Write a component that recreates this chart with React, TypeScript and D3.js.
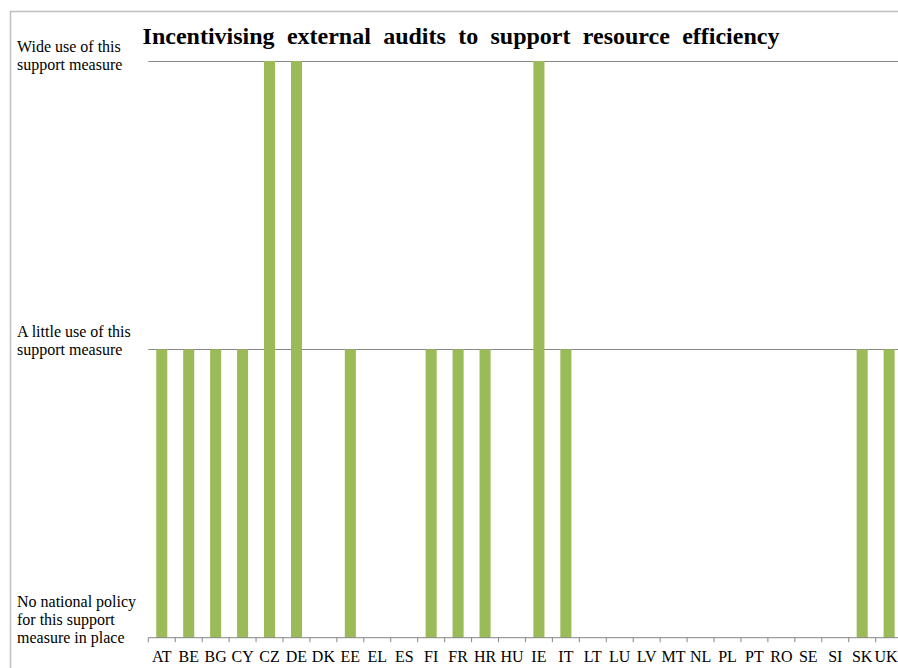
import React from "react";
import * as d3 from "d3";

const categories = ["AT","BE","BG","CY","CZ","DE","DK","EE","EL","ES","FI","FR","HR","HU","IE","IT","LT","LU","LV","MT","NL","PL","PT","RO","SE","SI","SK","UK"];
const values = [1,1,1,1,2,2,0,1,0,0,1,1,1,0,2,1,0,0,0,0,0,0,0,0,0,0,1,1];
const tickValues = [0, 1, 2];
const tickLabels = [
  ["No national policy", "for this support", "measure in place"],
  ["A little use of this", "support measure"],
  ["Wide use of this", "support measure"],
];
const title = "Incentivising external audits to support resource efficiency";

const W = 898, H = 668;
const left = 148.3, right = 902.6, top = 61, bottom = 637.7;
const FONT = "'Liberation Serif', 'Times New Roman', serif";

export default function App() {
  const x = d3.scaleBand<string>().domain(categories).range([left, right]).paddingInner(0.59).paddingOuter(0.295);
  const y = d3.scaleLinear().domain([0, 2]).range([bottom, top]);
  const step = x.step();
  const labelBase: Record<number, number> = { 0: 606.5, 1: 336.5, 2: 51.5 };
  return (
    <svg width={W} height={H} style={{ position: "absolute", left: 0, top: 0, background: "#fff" }}>
      <rect x={10.5} y={11.5} width={W + 20} height={H + 20} fill="#fff" stroke="#BFBFBF" strokeWidth={1.5} />
      <text x={461} y={43.5} textAnchor="middle" fontFamily={FONT} fontWeight="bold" fontSize={24} fill="#000" style={{ wordSpacing: "6.3px" }}>{title}</text>
      {tickValues.filter(v => v > 0).map(v => (
        <line key={v} x1={left} x2={W + 10} y1={Math.round(y(v)) + 0.5} y2={Math.round(y(v)) + 0.5} stroke="#868686" strokeWidth={1} />
      ))}
      {categories.map((c, i) => (
        <rect key={c} x={x(c)!} y={y(values[i])} width={x.bandwidth()} height={bottom - y(values[i])} fill="#9BBB59" />
      ))}
      <line x1={left} x2={W + 10} y1={bottom} y2={bottom} stroke="#868686" strokeWidth={1} />
      {d3.range(categories.length + 1).map(i => (
        <line key={i} x1={left + i * step} x2={left + i * step} y1={bottom} y2={bottom + 4.5} stroke="#868686" strokeWidth={1} />
      ))}
      {categories.map((c, i) => {
        const cx = x(c)! + x.bandwidth() / 2;
        const last = i === categories.length - 1;
        return (
          <text key={c} x={last ? W - 0.5 : cx} y={661.5} textAnchor={last ? "end" : "middle"} fontFamily={FONT} fontSize={16} fill="#000">{c}</text>
        );
      })}
      {tickValues.map((v, i) => (
        <text key={v} fontFamily={FONT} fontSize={16} fill="#000">
          {tickLabels[i].map((line, j) => (
            <tspan key={j} x={17} y={labelBase[v] + j * 18.3}>{line}</tspan>
          ))}
        </text>
      ))}
    </svg>
  );
}
